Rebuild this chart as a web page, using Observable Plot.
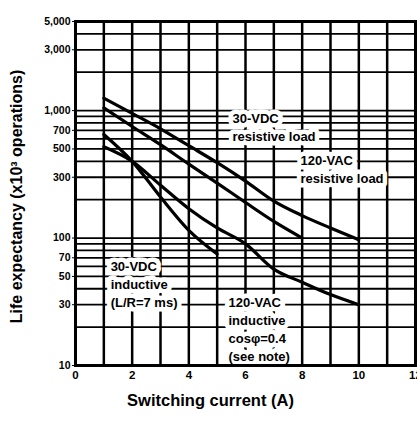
<!DOCTYPE html>
<html><head><meta charset="utf-8">
<script src="https://cdn.jsdelivr.net/npm/d3@7"></script>
<script src="https://cdn.jsdelivr.net/npm/@observablehq/plot@0.6"></script>
<style>
body{margin:0;background:#fff}
#chart svg{display:block;font-family:"Liberation Sans",Arial,sans-serif;font-weight:bold}
#chart g[aria-label="ytitle"] text{letter-spacing:2px}
#chart g[aria-label="xtitle"] text{letter-spacing:2px}
#chart g[aria-label="curve labels"] text{letter-spacing:0.8px}
</style>
</head><body><div id="chart"></div>
<script>
// axis ticks and grid
const yTicks = [10, 30, 50, 70, 100, 300, 500, 700, 1000, 3000, 5000];
const xTicks = [0, 2, 4, 6, 8, 10, 12];
const yGrid = [20,30,40,50,60,70,80,90,100,200,300,400,500,600,700,800,900,1000,2000,3000,4000];
const xGrid = [1,2,3,4,5,6,7,8,9,10,11];

// series (current in A, life in x10^3 operations)
const vacResX = [1, 2, 3, 4, 5, 6, 7, 8, 9, 10];
const vacResY = [1250, 950, 720, 530, 390, 280, 195, 150, 120, 97];
const vdcResX = [1, 2, 3, 4, 5, 6, 7, 8];
const vdcResY = [1050, 750, 540, 380, 270, 190, 135, 100];
const vdcIndX = [1, 2, 3, 4, 5];
const vdcIndY = [650, 400, 210, 115, 75];
const vacIndX = [1, 2, 3, 4, 5, 6, 7, 8, 9, 10];
const vacIndY = [520, 400, 260, 170, 120, 90, 57, 45, 36, 30];

// curve labels
const labelText = ["30-VDC\nresistive load", "120-VAC\nresistive load", "30-VDC\ninductive\n(L/R=7 ms)", "120-VAC\ninductive\ncos\u03c6=0.4\n(see note)"];
const labelX = [5.54, 7.94, 1.24, 5.4];
const labelY = [750, 350, 44, 19.5];

const rows = (xs, ys) => xs.map((x, i) => ({x, y: ys[i]}));
const labels = labelText.map((t, i) => ({t, x: labelX[i], y: labelY[i]}));

const plot = Plot.plot({
  width: 417, height: 421,
  marginLeft: 75, marginRight: 2, marginTop: 21, marginBottom: 56,
  x: {domain: [0, 12]},
  y: {type: "log", domain: [10, 5000]},
  style: {fontFamily: "Liberation Sans, Arial, sans-serif", fontWeight: "bold", background: "#fff"},
  marks: [
    Plot.ruleY(yGrid, {stroke: "black", strokeWidth: 1.8}),
    Plot.ruleX(xGrid, {stroke: "black", strokeWidth: 2.5}),
    Plot.line(rows(vacResX, vacResY), {x: "x", y: "y", stroke: "black", strokeWidth: 3.2, curve: "monotone-x"}),
    Plot.line(rows(vdcResX, vdcResY), {x: "x", y: "y", stroke: "black", strokeWidth: 3.2, curve: "monotone-x"}),
    Plot.line(rows(vdcIndX, vdcIndY), {x: "x", y: "y", stroke: "black", strokeWidth: 3.2, curve: "monotone-x"}),
    Plot.line(rows(vacIndX, vacIndY), {x: "x", y: "y", stroke: "black", strokeWidth: 3.2, curve: "monotone-x"}),
    Plot.text(labels, {x: "x", y: "y", text: "t", textAnchor: "start", lineAnchor: "middle", lineHeight: 1.38,
      fontSize: 13, fontWeight: "bold", fill: "black", stroke: "white", strokeWidth: 9, ariaLabel: "curve labels"}),
    Plot.frame({stroke: "black", strokeWidth: 3}),
    Plot.axisY({ticks: yTicks, tickSize: 3, tickFormat: () => "", label: null}),
    Plot.text(yTicks, {y: d => d, frameAnchor: "left", textAnchor: "end", dx: -5, text: d3.format(","), fontSize: 10.5, fontWeight: "bold", ariaLabel: "y tick labels"}),
    Plot.axisX({ticks: xTicks, tickFormat: d => d, tickSize: 0, tickPadding: 5, fontSize: 11.5, label: null}),
    Plot.text(["Life expectancy (x10\u00b3 operations)"], {frameAnchor: "left", dx: -59, dy: 3, rotate: -90, textAnchor: "middle", fontSize: 16, fontWeight: "bold", ariaLabel: "ytitle"}),
    Plot.text(["Switching current (A)"], {frameAnchor: "bottom", dy: 40, dx: -35, fontSize: 16.5, fontWeight: "bold", ariaLabel: "xtitle"})
  ]
});
document.getElementById("chart").append(plot);
</script>
</body></html>
